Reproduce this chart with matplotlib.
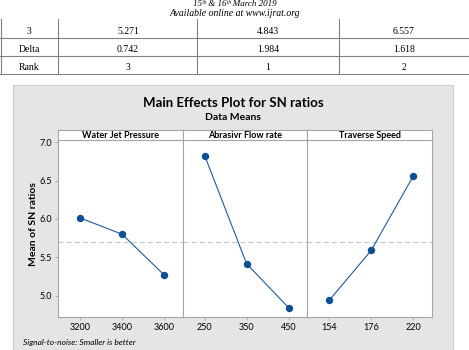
import matplotlib
matplotlib.use("Agg")
import matplotlib.pyplot as plt
from matplotlib.patches import Rectangle

# table rows shown above the chart (cut-off response table)
row_names = ["3", "Delta", "Rank"]
wjp_col = ["5.271", "0.742", "3"]
afr_col = ["4.843", "1.984", "1"]
ts_col = ["6.557", "1.618", "2"]

# main effects data (mean of SN ratios)
factors = ["Water Jet Pressure", "Abrasivr Flow rate", "Traverse Speed"]
levels = [["3200", "3400", "3600"], ["250", "350", "450"], ["154", "176", "220"]]
wjp_means = [6.013, 5.801, 5.271]
afr_means = [6.827, 5.415, 4.843]
ts_means = [4.939, 5.589, 6.557]
means = [wjp_means, afr_means, ts_means]
grand_mean = sum(wjp_means) / 3

W, H = 469, 350
fig = plt.figure(figsize=(W / 100, H / 100), dpi=100)

# background axes in pixel coords
bg = fig.add_axes([0, 0, 1, 1])
bg.set_xlim(0, W)
bg.set_ylim(H, 0)
bg.axis("off")

serif = "Liberation Serif"
sans = "Lato"

bg.text(W / 2, 4, "15\u1d57\u02b0 & 16\u1d57\u02b0 March 2019", ha="center", va="center",
        fontsize=6.5, family=[serif, "DejaVu Serif", "DejaVu Sans"], style="italic")
bg.text(W / 2, 14, "Available online at www.ijrat.org", ha="center", va="center",
        fontsize=7, family=serif, style="italic")

# table
line_c = "#808080"
for y in [38, 56, 74]:
    bg.plot([0, W], [y, y], color=line_c, lw=0.8)
for x in [0.6, 58, 197, 339]:
    bg.plot([x, x], [19, 74], color=line_c, lw=0.8)
col_x = [29, 128, 268, 404]
for i in range(3):
    yc = 31 + i * 18.3
    bg.text(col_x[0], yc, row_names[i], ha="center", va="center", fontsize=7, family=serif)
    bg.text(col_x[1], yc, wjp_col[i], ha="center", va="center", fontsize=7, family=serif)
    bg.text(col_x[2], yc, afr_col[i], ha="center", va="center", fontsize=7, family=serif)
    bg.text(col_x[3], yc, ts_col[i], ha="center", va="center", fontsize=7, family=serif)

# grey chart box
bg.add_patch(Rectangle((13, 85), 439.5, 270, facecolor="#e5e5e5", edgecolor="#cfcfcf", lw=0.8))
bg.text(233, 103, "Main Effects Plot for SN ratios", ha="center", va="center",
        fontsize=9.5, family=sans, weight="bold")
bg.text(233, 117, "Data Means", ha="center", va="center", fontsize=7.5,
        family=sans, weight="bold")
bg.text(23, 342, "Signal-to-noise: Smaller is better", ha="left", va="center",
        fontsize=6, family=sans, style="italic")
bg.text(33, 224, "Mean of SN ratios", ha="center", va="center", rotation=90,
        fontsize=7.5, family=sans, weight="bold")

left, right = 58.3, 432
top, bottom = 140, 316.5
pw = (right - left) / 3
edge = "#a6a6a6"
blue = "#1d5c9c"

for i in range(3):
    x0 = left + i * pw
    ax = fig.add_axes([x0 / W, 1 - bottom / H, pw / W, (bottom - top) / H])
    ax.plot(range(3), means[i], color=blue, lw=0.8, marker="o", ms=4.3,
            markerfacecolor="#0d4f94", markeredgecolor="#0d4f94")
    ax.axhline(grand_mean, color="#c8c8c8", lw=0.9, ls=(0, (4, 2.5)), zorder=0)
    ax.set_xlim(-0.52, 2.45)
    ax.set_ylim(4.727, 7.03)
    ax.set_xticks(range(3))
    ax.set_xticklabels(levels[i], fontsize=6.5, family=sans)
    ax.set_yticks([5.0, 5.5, 6.0, 6.5, 7.0])
    if i == 0:
        ax.set_yticklabels(["5.0", "5.5", "6.0", "6.5", "7.0"], fontsize=6.5, family=sans)
    else:
        ax.tick_params(axis="y", left=False, labelleft=False)
    ax.tick_params(length=2.5, width=0.6, color=edge, pad=2)
    for s in ax.spines.values():
        s.set_color(edge)
        s.set_linewidth(0.8)

    # strip header
    sx = fig.add_axes([x0 / W, 1 - top / H, pw / W, 10 / H])
    sx.set_xticks([])
    sx.set_yticks([])
    for s in sx.spines.values():
        s.set_color(edge)
        s.set_linewidth(0.8)
    sx.text(0.5, 0.45, factors[i], ha="center", va="center", fontsize=6.5,
            family=sans, weight="bold", transform=sx.transAxes)

fig.savefig("out.png", dpi=100)
